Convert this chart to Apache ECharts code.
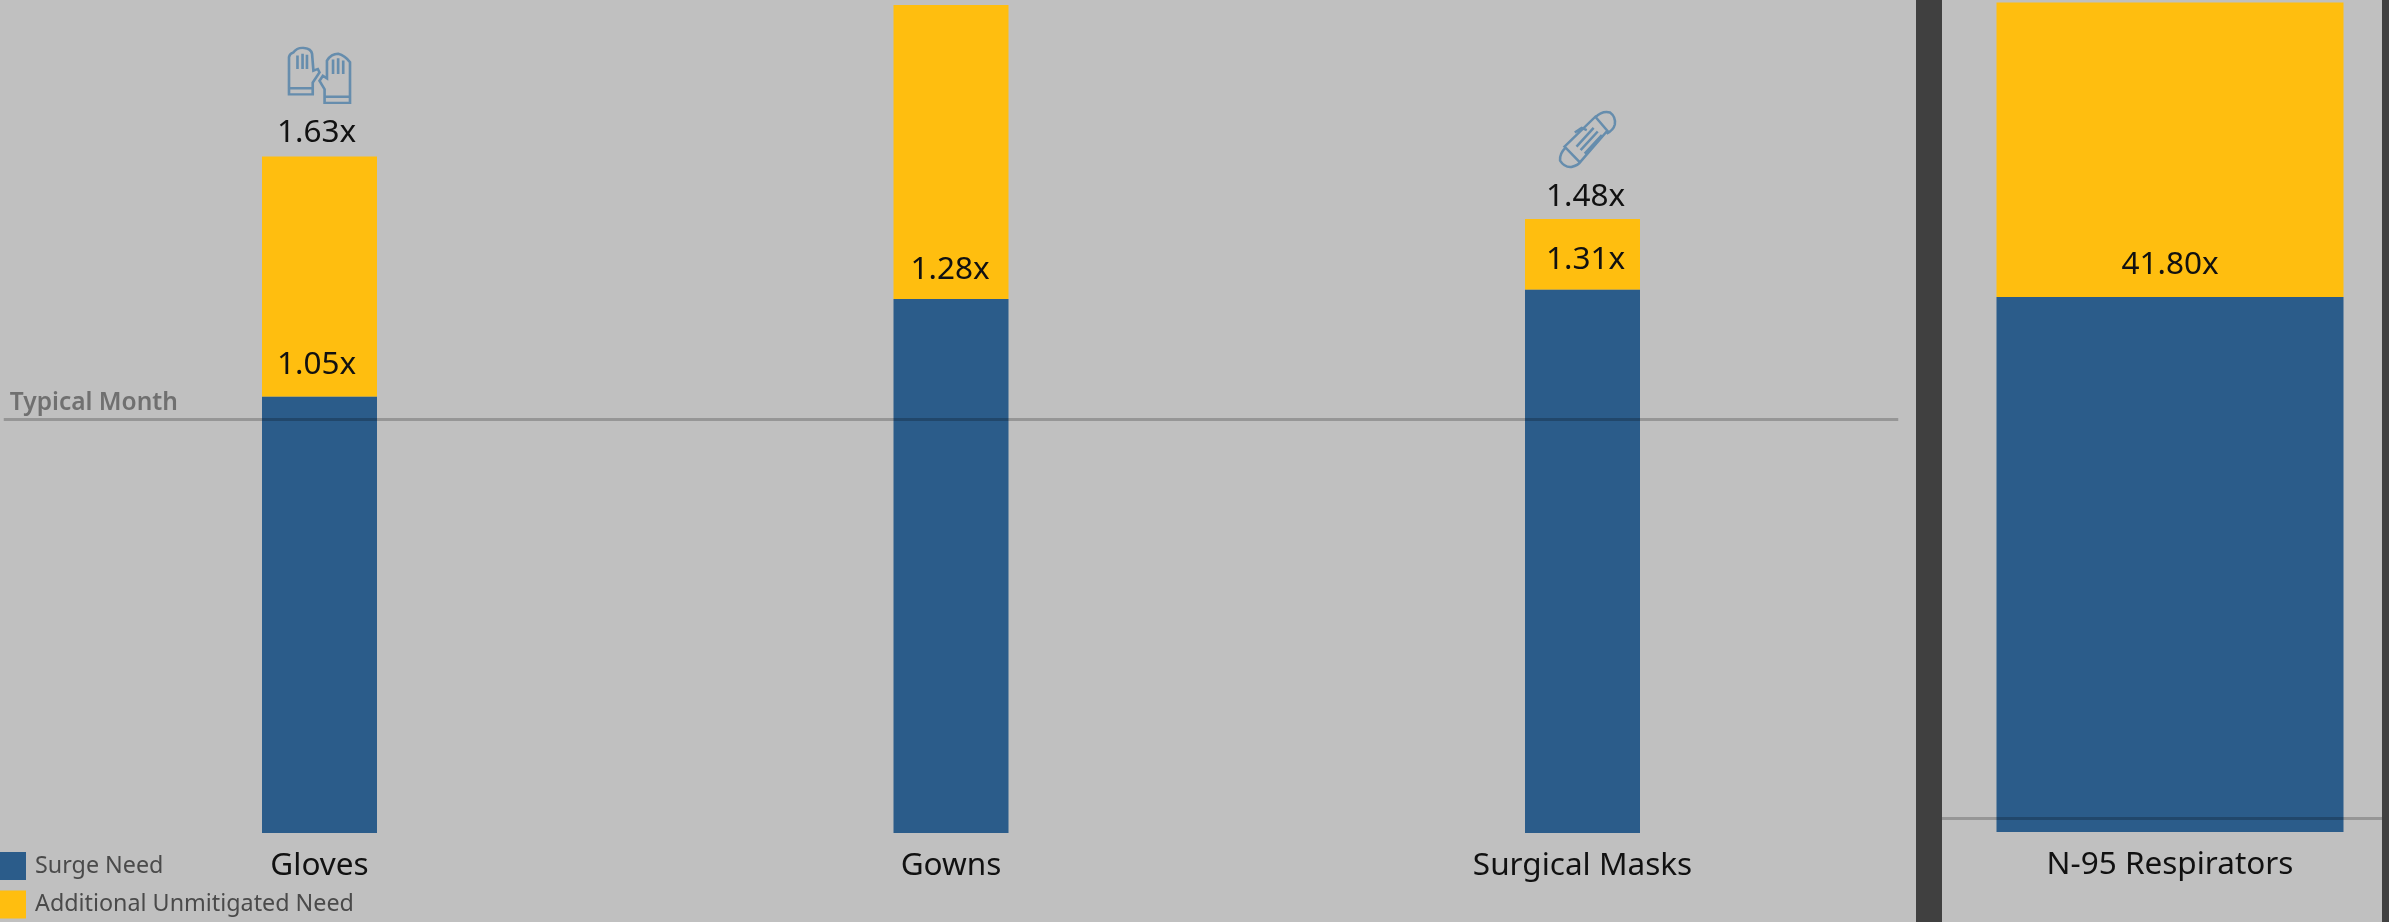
<!DOCTYPE html>
<html>
<head>
<meta charset="utf-8" />
<title>Surge need</title>
<script src="https://cdn.jsdelivr.net/npm/echarts@6/dist/echarts.min.js"></script>
<style>
  html, body { margin: 0; padding: 0; background: #c0c0c0; }
  #chart { width: 2389px; height: 922px; }
</style>
</head>
<body>
<div id="chart"></div>
<script>
const categories = ["Gloves", "Gowns", "Surgical Masks"];
const surgeNeed = [1.054, 1.29, 1.312];
const additionalNeed = [0.58, 0.71, 0.171];
const surgeLabels = ["1.05x", "1.28x", "1.31x"];
const totalLabels = ["1.63x", "", "1.48x"];
const typicalMonth = 1;

const respCategories = ["N-95 Respirators"];
const respSurge = [41.8];
const respAdditional = [23];
const respSurgeLabels = ["41.80x"];
const respTypical = 1.07;

const iconHeights = [1.83, null, 1.675];

const gloveIcon =
  "path://M60 165 L60 55 Q62 45 72 42 Q85 25 105 28 Q125 30 128 45 L132 95 L145 90 L150 100 L130 130 L130 165 Z " +
  "M60 147 L130 147 M85 50 L85 90 M100 45 L100 90 M113 48 L113 90 " +
  "M240 190 L165 190 L165 150 L150 125 L160 110 L172 118 L172 65 Q185 45 205 45 Q225 50 240 70 Z " +
  "M165 172 L240 172 M190 62 L190 105 M205 58 L205 105 M220 65 L220 105";
const maskIcon =
  "path://M45 125 L135 40 L170 80 L90 170 Z " +
  "M135 42 Q155 22 178 28 Q195 40 192 62 Q188 78 168 88 " +
  "M48 128 Q30 145 32 165 Q45 185 65 183 Q85 178 92 168 " +
  "M80 125 L130 72 M92 135 L142 82 M104 145 L154 92 M75 85 L95 72 L110 78";

const fontFamily = "Noto Sans";
const blue = "#2b5c8a";
const yellow = "#ffbe0f";
const lineColor = "rgba(0, 0, 0, 0.22)";
// the printed labels sit a little off the bar centres in the original
const labelShift = [[-3, 0], [-1, 3], [3, 1.5]];

const valueLabel = (texts, distance) => ({
  show: true,
  position: "top",
  distance: distance,
  fontFamily: fontFamily,
  fontSize: 31.5,
  lineHeight: 30,
  color: "#111",
  formatter: (p) => texts[p.dataIndex],
});

const shifted = (values) =>
  values.map((v, i) => ({ value: v, label: { offset: labelShift[i] } }));

const chart = echarts.init(document.getElementById("chart"));

chart.setOption({
  animation: false,
  backgroundColor: "#c0c0c0",
  legend: {
    data: ["Surge Need", "Additional Unmitigated Need"],
    orient: "vertical",
    left: 0,
    top: 852,
    padding: 0,
    itemWidth: 26,
    itemHeight: 28,
    itemGap: 10.5,
    icon: "rect",
    textStyle: {
      fontFamily: fontFamily,
      fontSize: 23.3,
      color: "#4a4a4a",
      padding: [14, 0, 0, 4],
    },
    selectedMode: false,
  },
  grid: [
    { left: 3.75, width: 1894.5, top: 0, height: 833, outerBoundsMode: "none" },
    { left: 1942, width: 456, top: 0, height: 832, outerBoundsMode: "none" },
  ],
  xAxis: [
    {
      type: "category",
      gridIndex: 0,
      data: categories,
      axisTick: { show: false },
      axisLine: { show: false },
      axisLabel: { fontFamily: fontFamily, fontSize: 31.5, color: "#111", margin: 17 },
    },
    {
      type: "category",
      gridIndex: 1,
      data: respCategories,
      axisTick: { show: false },
      axisLine: { show: false },
      axisLabel: { fontFamily: fontFamily, fontSize: 31.5, color: "#111", margin: 17 },
    },
  ],
  yAxis: [
    { type: "value", gridIndex: 0, min: 0, max: 2.012, show: false },
    { type: "value", gridIndex: 1, min: 0, max: 65, show: false },
  ],
  series: [
    {
      name: "Surge Need",
      type: "bar",
      stack: "need",
      xAxisIndex: 0,
      yAxisIndex: 0,
      barWidth: 115,
      z: 2,
      itemStyle: { color: blue },
      data: shifted(surgeNeed),
      label: valueLabel(surgeLabels, 16.5),
      markLine: {
        silent: true,
        symbol: ["none", "none"],
        lineStyle: { type: "solid", color: lineColor, width: 3 },
        label: {
          show: true,
          position: "insideStartTop",
          distance: [6, 3.5],
          formatter: "Typical Month",
          fontFamily: fontFamily,
          fontWeight: 600,
          fontSize: 24.5,
          color: "#707070",
        },
        data: [{ yAxis: typicalMonth }],
      },
    },
    {
      name: "Additional Unmitigated Need",
      type: "bar",
      stack: "need",
      xAxisIndex: 0,
      yAxisIndex: 0,
      barWidth: 115,
      z: 1,
      itemStyle: { color: yellow },
      data: shifted(additionalNeed),
      label: valueLabel(totalLabels, 8.5),
    },
    {
      name: "Surge Need",
      type: "bar",
      stack: "resp",
      xAxisIndex: 1,
      yAxisIndex: 1,
      barWidth: 347,
      z: 2,
      itemStyle: { color: blue },
      data: respSurge,
      label: valueLabel(respSurgeLabels, 16.5),
      markLine: {
        silent: true,
        symbol: ["none", "none"],
        label: { show: false },
        lineStyle: { type: "solid", color: lineColor, width: 3 },
        data: [{ yAxis: respTypical }],
      },
    },
    {
      name: "Additional Unmitigated Need",
      type: "bar",
      stack: "resp",
      xAxisIndex: 1,
      yAxisIndex: 1,
      barWidth: 347,
      z: 1,
      itemStyle: { color: yellow },
      data: respAdditional,
    },
    {
      // product icons above the bars
      type: "scatter",
      xAxisIndex: 0,
      yAxisIndex: 0,
      silent: true,
      z: 3,
      itemStyle: { color: "transparent", borderColor: "#4f7fa8", borderWidth: 2.5 },
      data: [
        { value: [0, iconHeights[0]], symbol: gloveIcon, symbolSize: [61, 55] },
        { value: [2, iconHeights[2]], symbol: maskIcon, symbolSize: [55, 55], symbolOffset: [5, 0] },
      ],
    },
  ],
  graphic: [
    // dark divider between the two panels and the strip on the right edge
    { type: "rect", z: 100, shape: { x: 1916, y: 0, width: 26, height: 922 }, style: { fill: "#404040" } },
    { type: "rect", z: 100, shape: { x: 2382, y: 0, width: 7, height: 922 }, style: { fill: "#404040" } },
  ],
});
</script>
</body>
</html>
